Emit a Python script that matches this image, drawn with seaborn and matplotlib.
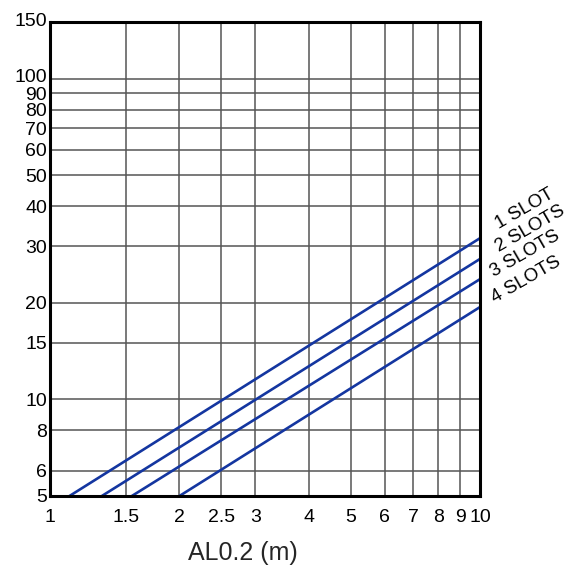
import matplotlib
matplotlib.use("Agg")
import matplotlib.pyplot as plt
import matplotlib.transforms as mtrans
import seaborn as sns
import pandas as pd

# series: line starts on y=5 at x_start, ends on x=10 at y_end
series = ["1 SLOT", "2 SLOTS", "3 SLOTS", "4 SLOTS"]
x_start = [1.11, 1.32, 1.55, 2.0]
y_end = [31.8, 27.4, 23.7, 19.4]
y_floor = 5
x_max = 10

x_ticks = [1, 1.5, 2, 2.5, 3, 4, 5, 6, 7, 8, 9, 10]
x_ticklabels = ["1", "1.5", "2", "2.5", "3", "4", "5", "6", "7", "8", "9", "10"]
y_ticks = [5, 6, 8, 10, 15, 20, 30, 40, 50, 60, 70, 80, 90, 100, 150]
y_ticklabels = [str(v) for v in y_ticks]

rows = []
for name, xs, ye in zip(series, x_start, y_end):
    rows.append({"series": name, "x": xs, "y": y_floor})
    rows.append({"series": name, "x": x_max, "y": ye})
df = pd.DataFrame(rows)

sns.set_style("white")
plt.rcParams['font.family'] = ['Liberation Sans', 'DejaVu Sans']

fig = plt.figure(figsize=(5.81, 5.85), dpi=100)
ax = fig.add_axes([50/581, 89/585, 430/581, 474/585])

line_col = "#1436a0"
sns.lineplot(data=df, x="x", y="y", hue="series", palette=[line_col]*4,
             linewidth=1.9, legend=False, ax=ax, zorder=3)

ax.set_xscale("log")
ax.set_yscale("log")
ax.set_xlim(1, 10)
ax.set_ylim(5, 150)
ax.minorticks_off()
ax.set_xticks(x_ticks)
ax.set_xticklabels(x_ticklabels)
ax.set_yticks(y_ticks)
ax.set_yticklabels(y_ticklabels)
ax.tick_params(axis="both", length=0, labelsize=14, colors="black")
ax.tick_params(axis="x", pad=9)
ax.tick_params(axis="y", pad=2)
ax.grid(True, color="#555555", linewidth=1.1)
ax.set_xlabel("")
ax.set_ylabel("")

# the 100 and 150 labels sit a little above their lines
for lab in ax.get_yticklabels():
    if lab.get_text() in ("100", "150"):
        lab.set_transform(lab.get_transform() +
                          mtrans.ScaledTranslation(0, 3/100, fig.dpi_scale_trans))

for s in ax.spines.values():
    s.set_visible(True)
    s.set_color("black")
    s.set_linewidth(2.2)
    s.set_zorder(4)

fig.text(243/581, 1 - 553/585, "AL0.2 (m)", fontsize=18, ha="center", va="center")

label_pos = [(525, 209), (530, 229), (525, 254), (526, 280)]
for name, (px, py) in zip(series, label_pos):
    fig.text(px/581, 1 - py/585, name, fontsize=13.5, rotation=30,
             ha="center", va="center", color="black")

fig.savefig("out.png", dpi=100)
